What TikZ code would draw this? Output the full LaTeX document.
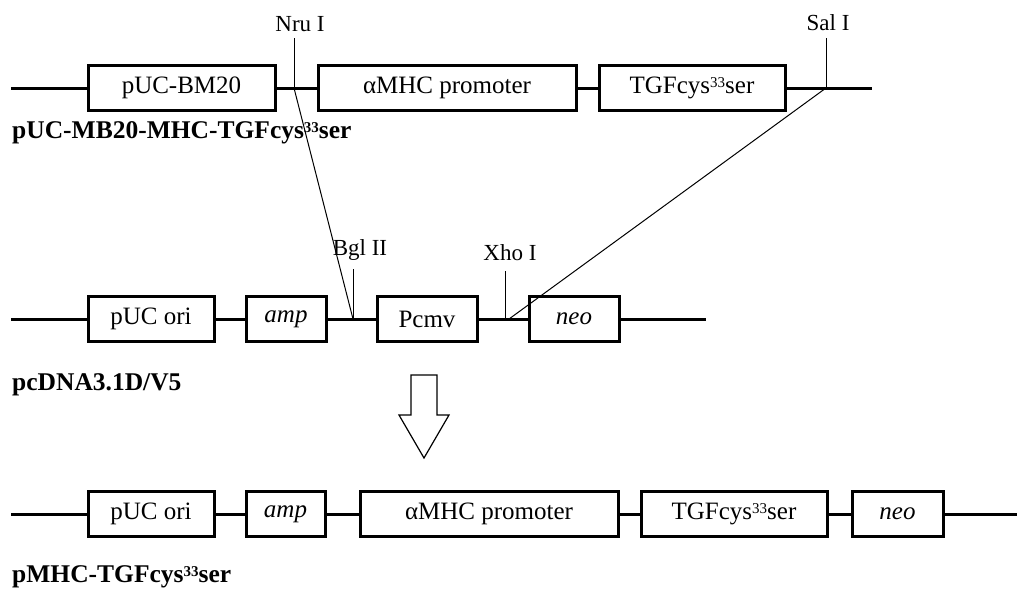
\documentclass[tikz,border=0pt]{standalone}
\usepackage{fontspec}
\setmainfont{Liberation Serif}
\newcommand\mysup[1]{\raisebox{0.55ex}{\fontsize{15}{15}\selectfont #1}}
\begin{document}
\begin{tikzpicture}[x=1pt,y=-1pt,
  gene/.style={draw, line width=3pt, fill=white, inner sep=0pt, minimum height=45pt, font=\fontsize{25}{30}\selectfont},
  dna/.style={line width=3pt},
  cut/.style={line width=1pt},
  site/.style={font=\fontsize{23}{27}\selectfont, inner sep=0pt},
  plabel/.style={font=\fontsize{25.5}{29}\selectfont\bfseries, anchor=west, inner sep=0pt}]
\useasboundingbox (0,0) rectangle (1017,595);

% ---------- top row ----------
\node[gene, minimum width=187pt] (t1) at (181.5,88) {pUC-BM20};
\node[gene, minimum width=258pt] (t2) at (447,88) {αMHC promoter};
\node[gene, minimum width=186pt] (t3) at (692,88) {TGFcys\mysup{33}ser};
\coordinate (tL) at (11,88);
\coordinate (tR) at (872,88);
\draw[dna] (tL) -- (t1.west);
\draw[dna] (t1.east) -- (t2.west);
\draw[dna] (t2.east) -- (t3.west);
\draw[dna] (t3.east) -- (tR);
\node[plabel] (lab1) at (12,133) {pUC-MB20-MHC-TGFcys\mysup{\bfseries 33}ser};

% ---------- middle row ----------
\node[gene, minimum width=126pt] (m1) at (151,319) {pUC ori};
\node[gene, minimum width=80pt] (m2) at (286,319) {\itshape amp};
\node[gene, minimum width=100pt] (m3) at (427,319) {Pcmv};
\node[gene, minimum width=90pt] (m4) at (574,319) {\itshape neo};
\coordinate (mL) at (11,319);
\coordinate (mR) at (706,319);
\draw[dna] (mL) -- (m1.west);
\draw[dna] (m1.east) -- (m2.west);
\draw[dna] (m2.east) -- (m3.west);
\draw[dna] (m3.east) -- (m4.west);
\draw[dna] (m4.east) -- (mR);
\node[plabel] (lab2) at (12,385) {pcDNA3.1D/V5};

% ---------- restriction sites ----------
\node[site] (nrul) at (300,24) {Nru I};
\node[site] (sall) at (828,23) {Sal I};
\node[site] (bgll) at (360,250) {Bgl II};
\node[site] (xhol) at (510,253) {Xho I};
\coordinate (nru) at (294,88);
\coordinate (nruT) at (294,38);
\coordinate (sal) at (826,88);
\coordinate (salT) at (826,38);
\coordinate (bgl) at (353,319);
\coordinate (bglT) at (353,269);
\coordinate (xho) at (505,319);
\coordinate (xhoT) at (505,271);
\coordinate (xhoIn) at (509,319);
\draw[cut] (nruT) -- (nru);
\draw[cut] (salT) -- (sal);
\draw[cut] (bglT) -- (bgl);
\draw[cut] (xhoT) -- (xho);
\draw[cut] (nru) -- (bgl);
\draw[cut] (sal) -- (xhoIn);

% ---------- arrow ----------
\draw[line width=1.2pt, fill=white] (411,375) -- (437,375) -- (437,415) -- (449,415) -- (424,458) -- (399,415) -- (411,415) -- cycle;

% ---------- bottom row ----------
\node[gene, minimum width=126pt] (b1) at (151,514) {pUC ori};
\node[gene, minimum width=79pt] (b2) at (285.5,514) {\itshape amp};
\node[gene, minimum width=258pt] (b3) at (489,514) {αMHC promoter};
\node[gene, minimum width=186pt] (b4) at (734,514) {TGFcys\mysup{33}ser};
\node[gene, minimum width=91pt] (b5) at (897.5,514) {\itshape neo};
\coordinate (bL) at (11,514);
\coordinate (bR) at (1017,514);
\draw[dna] (bL) -- (b1.west);
\draw[dna] (b1.east) -- (b2.west);
\draw[dna] (b2.east) -- (b3.west);
\draw[dna] (b3.east) -- (b4.west);
\draw[dna] (b4.east) -- (b5.west);
\draw[dna] (b5.east) -- (bR);
\node[plabel] (lab3) at (12,577) {pMHC-TGFcys\mysup{\bfseries 33}ser};
\end{tikzpicture}
\end{document}
